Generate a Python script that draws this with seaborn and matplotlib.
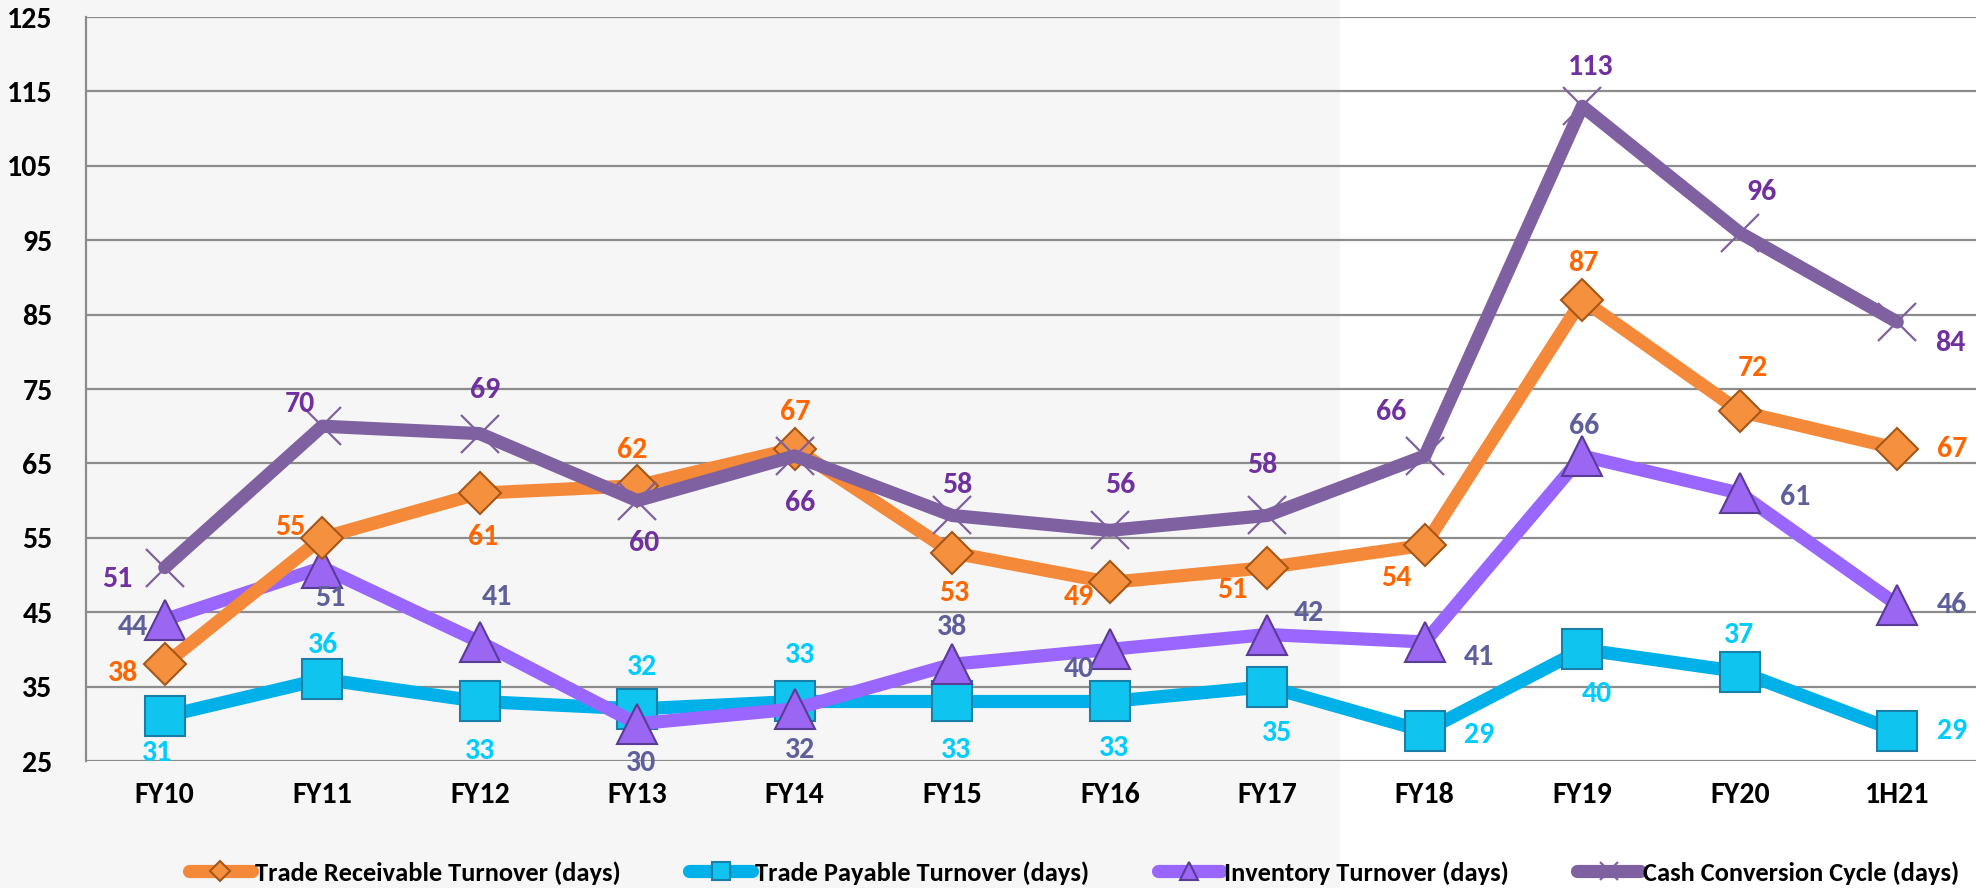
import matplotlib
matplotlib.use("Agg")
import matplotlib.pyplot as plt
import seaborn as sns
from matplotlib import font_manager
from matplotlib.patches import Rectangle

# ---------------------------------------------------------
# data
# ---------------------------------------------------------
periods = ["FY10", "FY11", "FY12", "FY13", "FY14", "FY15", "FY16", "FY17",
           "FY18", "FY19", "FY20", "1H21"]
receivable = [38, 55, 61, 62, 67, 53, 49, 51, 54, 87, 72, 67]
payable = [31, 36, 33, 32, 33, 33, 33, 35, 29, 40, 37, 29]
inventory = [44, 51, 41, 30, 32, 38, 40, 42, 41, 66, 61, 46]
ccc = [51, 70, 69, 60, 66, 58, 56, 58, 66, 113, 96, 84]

y_ticks = [25, 35, 45, 55, 65, 75, 85, 95, 105, 115, 125]

# label offsets (pixels, x right / y down)
rec_off = [(-42, 9), (-32, -11), (3, 44), (-5, -36), (0, -37), (2, 40),
           (-31, 15), (-35, 22), (-28, 33), (1, -37), (13, -43), (55, 0)]
pay_off = [(-8, 37), (1, -34), (0, 50), (5, -42), (5, -46), (4, 49),
           (4, 47), (10, 46), (54, 4), (15, 45), (-1, -37), (55, 0)]
inv_off = [(-32, 7), (8, 30), (17, -45), (4, 39), (5, 41), (0, -37),
           (-31, 20), (42, -22), (54, 15), (2, -30), (55, 4), (55, 0)]
ccc_off = [(-47, 11), (-22, -22), (5, -44), (7, 42), (5, 47), (5, -30),
           (11, -45), (-5, -50), (-34, -44), (8, -39), (22, -41), (53, 21)]


# pick a narrow font if one is there (Calibri-like look)
def pick_font():
    for fam in ["Carlito", "Liberation Sans Narrow", "Roboto Condensed",
                "Open Sans Condensed", "Roboto"]:
        try:
            font_manager.findfont(font_manager.FontProperties(family=fam),
                                  fallback_to_default=False)
            return fam
        except Exception:
            pass
    return "DejaVu Sans"


FONT = pick_font()
narrow = FONT in ("Liberation Sans Narrow", "Carlito", "Roboto Condensed",
                  "Open Sans Condensed")
TICK_FS = 21.5 if narrow else 17
LAB_FS = 21.5 if narrow else 17
LEG_FS = 19 if narrow else 14.5

sns.set_theme(style="white")
plt.rcParams["font.family"] = [FONT, "DejaVu Sans"]
plt.rcParams["font.weight"] = "bold"

fig = plt.figure(figsize=(19.76, 8.88), dpi=100)
fig.patch.set_facecolor("white")
# grey panel behind the left part of the chart
fig.patches.append(Rectangle((0, 0), 1340 / 1976, 1, transform=fig.transFigure,
                             facecolor="#f6f6f6", edgecolor="none", zorder=0))

ax = fig.add_axes([86 / 1976, 1 - 761 / 888, 1 - 86 / 1976, (761 - 17) / 888])
ax.set_facecolor("none")
ax.set_zorder(2)

series = [
    # name, values, line colour, marker, size, face, edge, label colour, offsets
    ("Trade Payable Turnover (days)", payable, "#00b0e8", "s", 29, "#10c4f0", "#1a7fa8", "#00ccff", pay_off),
    ("Inventory Turnover (days)", inventory, "#9966ff", "^", 29, "#9a66f2", "#5a3c96", "#5f5f9c", inv_off),
    ("Trade Receivable Turnover (days)", receivable, "#f5893a", "D", 21.5, "#f5913e", "#a65616", "#ff6600", rec_off),
    ("Cash Conversion Cycle (days)", ccc, "#7f60a0", "x", 28, "#7f60a0", "#7f60a0", "#7030a0", ccc_off),
]

handles = {}
for name, vals, col, mk, ms, face, edge, lab_col, offs in series:
    sns.lineplot(x=periods, y=vals, ax=ax, color=col, linewidth=9.5,
                 marker=mk, markersize=ms, markerfacecolor=face,
                 markeredgecolor=edge, markeredgewidth=1.5 if mk != "x" else 1.6,
                 sort=False, zorder=3, solid_joinstyle="round")
    handles[name] = ax.lines[-1]
    for i, v in enumerate(vals):
        dx, dy = offs[i]
        ax.annotate(str(v), (i, v), xytext=(dx, -dy), textcoords="offset pixels",
                    ha="center", va="center", fontsize=LAB_FS, fontweight="bold",
                    color=lab_col, zorder=5)

ax.set_xlim(-0.5, 11.5)
ax.set_ylim(25, 125)
ax.set_yticks(y_ticks)
ax.set_xticks(range(len(periods)))
ax.set_xticklabels(periods)
ax.grid(axis="y", color="#8c8c8c", linewidth=1.6, zorder=1)
ax.grid(axis="x", visible=False)
for s in ["top", "right", "bottom"]:
    ax.spines[s].set_visible(False)
ax.spines["left"].set_color("#8c8c8c")
ax.spines["left"].set_linewidth(1.6)
ax.tick_params(axis="y", length=0, pad=24, labelsize=TICK_FS)
ax.tick_params(axis="x", length=0, pad=15, labelsize=TICK_FS)
for t in ax.get_xticklabels() + ax.get_yticklabels():
    t.set_fontweight("bold")
    t.set_color("black")
ax.set_xlabel("")
ax.set_ylabel("")

order = ["Trade Receivable Turnover (days)", "Trade Payable Turnover (days)",
         "Inventory Turnover (days)", "Cash Conversion Cycle (days)"]
leg = fig.legend([handles[n] for n in order], order, loc="center",
                 bbox_to_anchor=(0.5435, 0.017), ncol=4, frameon=False,
                 fontsize=LEG_FS, handlelength=2.4, handletextpad=0.1,
                 columnspacing=2.6, markerscale=0.45)
for t in leg.get_texts():
    t.set_fontweight("bold")
    t.set_color("black")
for lh in leg.legend_handles:
    lh.set_solid_capstyle("round")

fig.savefig("out.png", dpi=100)
